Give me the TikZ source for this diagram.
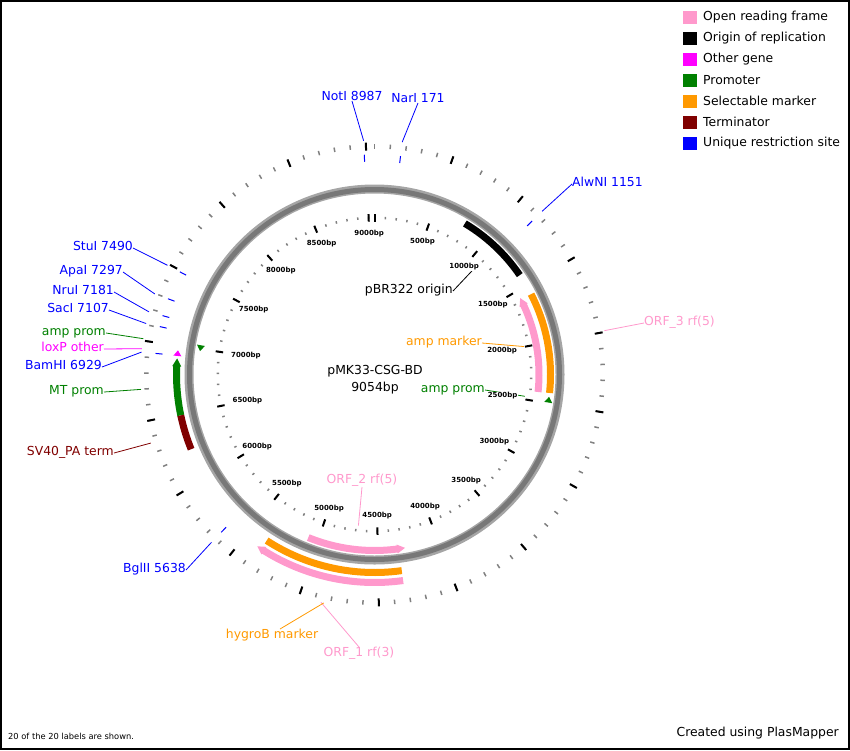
\documentclass[tikz,border=0pt]{standalone}
\usepackage{fontspec}
\setmainfont{DejaVu Sans}
\usepackage{tikz}

\definecolor{orfpink}{RGB}{255,153,204}
\definecolor{markerorange}{RGB}{255,153,0}
\definecolor{promgreen}{RGB}{0,128,0}
\definecolor{termred}{RGB}{128,0,0}
\definecolor{othermagenta}{RGB}{255,0,255}
\definecolor{siteblue}{RGB}{0,0,255}
\definecolor{ringgray}{RGB}{165,165,165}
\definecolor{ringdark}{RGB}{120,120,120}

\tikzset{declare function={posang(\p)=-90+\p/9054*360;}}

%flat feature: colour, radius, from, to
\newcommand{\featarc}[4]{%
  \draw[feat,#1] ({posang(#3)}:#2) arc[start angle={posang(#3)},end angle={posang(#4)},radius=#2];}
%feature with arrow head: colour, radius, tail, base of head, tip
\newcommand{\featarrow}[5]{%
  \fill[#1] ({posang(#3)}:{#2-3.5}) arc[start angle={posang(#3)},end angle={posang(#4)},radius={#2-3.5}]
    -- ({posang(#4)}:{#2-4.5}) -- ({posang(#5)}:#2) -- ({posang(#4)}:{#2+4.5})
    -- ({posang(#4)}:{#2+3.5}) arc[start angle={posang(#4)},end angle={posang(#3)},radius={#2+3.5}] -- cycle;}
%small feature drawn as a triangle: colour, radius, base, tip
\newcommand{\feattri}[4]{%
  \fill[#1] ({posang(#3)}:{#2-4}) -- ({posang(#4)}:#2) -- ({posang(#3)}:{#2+4}) -- cycle;}

\begin{document}
\begin{tikzpicture}[x=1pt,y=-1pt,
  feat/.style={line width=7pt},
  majortick/.style={line width=2pt,black},
  minortick/.style={line width=1.5pt,gray},
  sitetick/.style={line width=1pt,siteblue},
  bplabel/.style={font=\fontsize{7}{8}\selectfont\bfseries,fill=white,inner sep=0.5pt},
  lbl/.style={font=\fontsize{12.4}{14}\selectfont,inner sep=0pt},
  sitelbl/.style={lbl,text=siteblue},
  orflbl/.style={lbl,text=orfpink},
  markerlbl/.style={lbl,text=markerorange},
  promlbl/.style={lbl,text=promgreen},
  leader/.style={line width=0.8pt}]
\useasboundingbox (0,0) rectangle (850,750);
\draw[line width=2pt] (1,1) rectangle (849,749);

\begin{scope}[shift={(374.5,374.5)}]
%Backbone
\draw[line width=9pt,ringgray] (0,0) circle[radius=185.5];
\draw[line width=5pt,ringdark] (0,0) circle[radius=185];

%Ticks every 100bp, inner and outer
\foreach \p in {0,100,...,9000}{
  \draw[minortick] ({posang(\p)}:155.5) -- ({posang(\p)}:158);
  \draw[minortick] ({posang(\p)}:226) -- ({posang(\p)}:230.5);
}
\draw[majortick] ({posang(0)}:153) -- ({posang(0)}:160.5);
\foreach \p in {500,1000,...,9000}{
  \draw[majortick] ({posang(\p)}:153) -- ({posang(\p)}:160.5);
  \draw[majortick] ({posang(\p)}:224) -- ({posang(\p)}:232);
}

%Unique restriction sites
\foreach \n/\p in {NotI/8987,NarI/171,AlwNI/1151,BglII/5638,BamHI/6929,SacI/7107,NruI/7181,ApaI/7297,StuI/7490}{
  \draw[sitetick] ({posang(\p)}:213) -- ({posang(\p)}:220);
  \coordinate (e\n) at ({posang(\p)}:234);
}

%Features inside the backbone
\featarc{black}{176}{777}{1399}
\featarc{markerorange}{176}{1580}{2415}
\featarrow{orfpink}{164.5}{2417}{1637}{1567}
\featarrow{orfpink}{176}{5083}{4341}{4276}
\feattri{promgreen}{176}{2494}{2447}
\feattri{promgreen}{176}{7031}{6982}

%Features outside the backbone
\featarc{markerorange}{198}{4328}{5357}
\featarrow{orfpink}{208}{4328}{5335}{5390}
\featarrow{promgreen}{198}{6491}{6850}{6908}
\featarc{termred}{198}{6233}{6491}
\feattri{othermagenta}{198}{6926}{6967}

%Ends of the label lines
\coordinate (eOri) at ({posang(1088)}:152);
\coordinate (eAmpMarker) at ({posang(1997)}:152);
\coordinate (eAmpProm) at ({posang(2471)}:152);
\coordinate (eOrf2) at ({posang(4680)}:152);
\coordinate (eOrf3) at ({posang(1992)}:234);
\coordinate (eOrf1) at ({posang(4860)}:234);
\coordinate (eHygro) at ({posang(4842)}:234);
\coordinate (eAmpPromL) at ({posang(7012)}:234);
\coordinate (eLoxP) at ({posang(6950)}:234);
\coordinate (eMT) at ({posang(6699)}:234);
\coordinate (eSV40) at ({posang(6362)}:234);
\end{scope}

%Labels of the restriction sites
\node[sitelbl,anchor=south] (notI) at (352,101) {NotI 8987};
\node[sitelbl,anchor=south] (narI) at (418,103) {NarI 171};
\node[sitelbl,anchor=mid west] (alwNI) at (572,184) {AlwNI 1151};
\node[sitelbl,anchor=mid east] (bglII) at (186,570) {BglII 5638};
\node[sitelbl,anchor=mid east] (bamHI) at (102,367) {BamHI 6929};
\node[sitelbl,anchor=mid east] (sacI) at (109,310) {SacI 7107};
\node[sitelbl,anchor=mid east] (nruI) at (114,292) {NruI 7181};
\node[sitelbl,anchor=mid east] (apaI) at (123,272) {ApaI 7297};
\node[sitelbl,anchor=mid east] (stuI) at (133,248) {StuI 7490};
\foreach \n/\m in {notI.south/NotI,narI.south/NarI,alwNI.mid west/AlwNI,bglII.mid east/BglII,bamHI.mid east/BamHI,sacI.mid east/SacI,nruI.mid east/NruI,apaI.mid east/ApaI,stuI.mid east/StuI}
  \draw[leader,siteblue] (\n) -- (e\m);

%Labels of the features
\node[lbl,anchor=mid east] (ori) at (453,291) {pBR322 origin};
\node[markerlbl,anchor=mid east] (ampmarker) at (482,343) {amp marker};
\node[promlbl,anchor=mid east] (ampprom) at (485,390) {amp prom};
\node[orflbl,anchor=south] (orf2) at (362,487) {ORF\_2 rf(5)};
\node[orflbl,anchor=mid west] (orf3) at (644,323) {ORF\_3 rf(5)};
\node[orflbl,anchor=north] (orf1) at (359,647) {ORF\_1 rf(3)};
\node[markerlbl,anchor=north] (hygro) at (272,629) {hygroB marker};
\node[promlbl,anchor=mid east] (amppromL) at (106,333) {amp prom};
\node[lbl,text=othermagenta,anchor=mid east] (loxP) at (104,349) {loxP other};
\node[promlbl,anchor=mid east] (mtprom) at (104,392) {MT prom};
\node[lbl,text=termred,anchor=mid east] (sv40) at (114,453) {SV40\_PA term};
\draw[leader] (ori.mid east) -- (eOri);
\draw[leader,markerorange] (ampmarker.mid east) -- (eAmpMarker);
\draw[leader,promgreen] (ampprom.mid east) -- (eAmpProm);
\draw[leader,orfpink] (orf2.south) -- (eOrf2);
\draw[leader,orfpink] (orf3.mid west) -- (eOrf3);
\draw[leader,orfpink] (orf1.north) -- (eOrf1);
\draw[leader,markerorange] ([xshift=8pt]hygro.north) -- (eHygro);
\draw[leader,promgreen] (amppromL.mid east) -- (eAmpPromL);
\draw[leader,othermagenta] (loxP.mid east) -- (eLoxP);
\draw[leader,promgreen] (mtprom.mid east) -- (eMT);
\draw[leader,termred] (sv40.mid east) -- (eSV40);

%Scale labels, over the label lines
\begin{scope}[shift={(374.5,374.5)}]
\foreach \p in {500,1000,...,9000}{
  \pgfmathtruncatemacro\na{mod(450-\p/9054*360,360)}
  \node[bplabel,anchor=\na] (bp\p) at ({posang(\p)}:145.5) {\p bp};
}
\end{scope}

%Name and size
\node[lbl] (plasmid) at (375,371) {pMK33-CSG-BD};
\node[lbl] (size) at (375,388) {9054bp};

%Legend
\foreach \c/\t [count=\i] in {orfpink/Open reading frame,black/Origin of replication,othermagenta/Other gene,promgreen/Promoter,markerorange/Selectable marker,termred/Terminator,siteblue/Unique restriction site}{
  \fill[\c] (683,{10.5+21*(\i-1)}) rectangle ++(13.5,13.5);
  \node[lbl,anchor=west] (legend\i) at (703,{17+21*(\i-1)}) {\t};
}

\node[anchor=west,inner sep=0pt,font=\fontsize{8.3}{9}\selectfont] (shown) at (8,736) {20 of the 20 labels are shown.};
\node[lbl,anchor=east] (credit) at (839,733) {Created using PlasMapper};
\end{tikzpicture}
\end{document}
